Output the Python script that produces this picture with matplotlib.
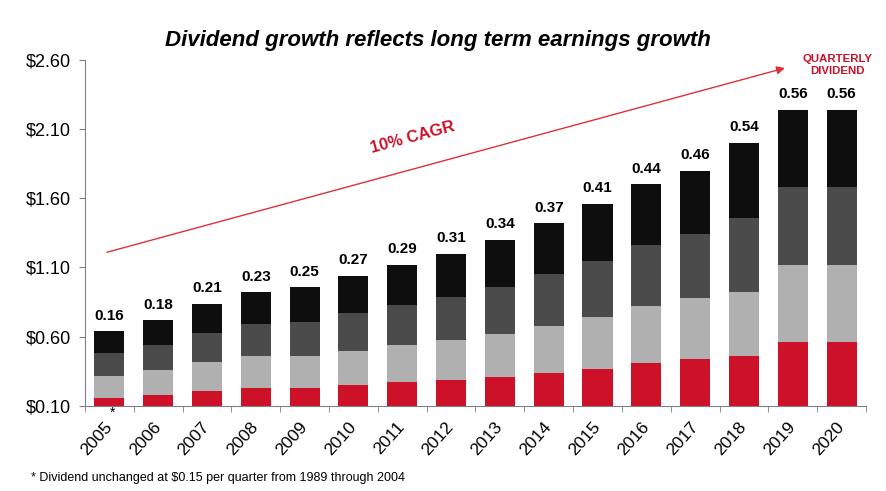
import matplotlib
matplotlib.use("Agg")
import matplotlib.pyplot as plt
import numpy as np

plt.rcParams['font.family'] = ['Liberation Sans', 'DejaVu Sans']

years = ['2005', '2006', '2007', '2008', '2009', '2010', '2011', '2012',
         '2013', '2014', '2015', '2016', '2017', '2018', '2019', '2020']
# quarterly dividends, stacked Q1..Q4
q1 = [0.16, 0.18, 0.21, 0.23, 0.23, 0.25, 0.27, 0.29, 0.31, 0.34, 0.37, 0.41, 0.44, 0.46, 0.56, 0.56]
q2 = [0.16, 0.18, 0.21, 0.23, 0.23, 0.25, 0.27, 0.29, 0.31, 0.34, 0.37, 0.41, 0.44, 0.46, 0.56, 0.56]
q3 = [0.16, 0.18, 0.21, 0.23, 0.25, 0.27, 0.29, 0.31, 0.34, 0.37, 0.41, 0.44, 0.46, 0.54, 0.56, 0.56]
q4 = [0.16, 0.18, 0.21, 0.23, 0.25, 0.27, 0.29, 0.31, 0.34, 0.37, 0.41, 0.44, 0.46, 0.54, 0.56, 0.56]
quarter_labels = ['0.16', '0.18', '0.21', '0.23', '0.25', '0.27', '0.29', '0.31',
                  '0.34', '0.37', '0.41', '0.44', '0.46', '0.54', '0.56', '0.56']
yticks = [0.10, 0.60, 1.10, 1.60, 2.10, 2.60]

colors = ['#cc1128', '#b0b0b0', '#4b4b4b', '#0e0e0e']
red = '#cc1128'

fig = plt.figure(figsize=(8.86, 4.91), dpi=100)
ax = fig.add_axes([0.0959, 0.1731, 0.8815, 0.7053])

x = np.arange(len(years))
bottom = np.zeros(len(years))
for vals, c in zip([q1, q2, q3, q4], colors):
    ax.bar(x, vals, bottom=bottom, width=0.615, color=c, zorder=2)
    bottom += np.array(vals)

for xi, top, lab in zip(x, bottom, quarter_labels):
    ax.annotate(lab, (xi, top), xytext=(0, 6), textcoords='offset points',
                ha='center', va='bottom', fontsize=11, fontweight='bold')

ax.set_xlim(-0.5, len(years) - 0.5)
ax.set_ylim(0.10, 2.60)
ax.set_yticks(yticks)
ax.set_yticklabels(['$%.2f' % v for v in yticks], fontsize=13)
ax.tick_params(axis='y', length=4, color='#808080', pad=6)

ax.set_xticks(x)
ax.set_xticklabels(years, rotation=48, fontsize=12.5, ha='right', va='center',
                   rotation_mode='anchor')
ax.tick_params(axis='x', length=0, pad=13)
ax.set_xticks(np.arange(-0.5, len(years)), minor=True)
ax.tick_params(axis='x', which='minor', length=4, color='#808080')

for s in ['top', 'right']:
    ax.spines[s].set_visible(False)
for s in ['left', 'bottom']:
    ax.spines[s].set_color('#808080')

# trend arrow
ax.annotate('', xy=(13.84, 2.54), xytext=(-0.05, 1.21),
            arrowprops=dict(arrowstyle='-|>', color='#e0303a', lw=1.0,
                            mutation_scale=12, shrinkA=0, shrinkB=0))
ax.text(6.22, 2.04, '10% CAGR', color=red, fontsize=12, fontweight='bold',
        rotation=15, ha='center', va='center')
ax.text(14.91, 2.56, 'QUARTERLY\nDIVIDEND', color=red, fontsize=8.2,
        fontweight='bold', ha='center', va='center', linespacing=1.25)

ax.text(0.06, -0.02, '*', transform=ax.get_xaxis_transform(), ha='center',
        va='center', fontsize=10)

fig.text(0.494, 0.918, 'Dividend growth reflects long term earnings growth',
         ha='center', va='center', fontsize=16, fontweight='bold', style='italic')
fig.text(0.035, 0.027, '* Dividend unchanged at $0.15 per quarter from 1989 through 2004',
         ha='left', va='center', fontsize=9)

fig.savefig('out.png', dpi=100)
